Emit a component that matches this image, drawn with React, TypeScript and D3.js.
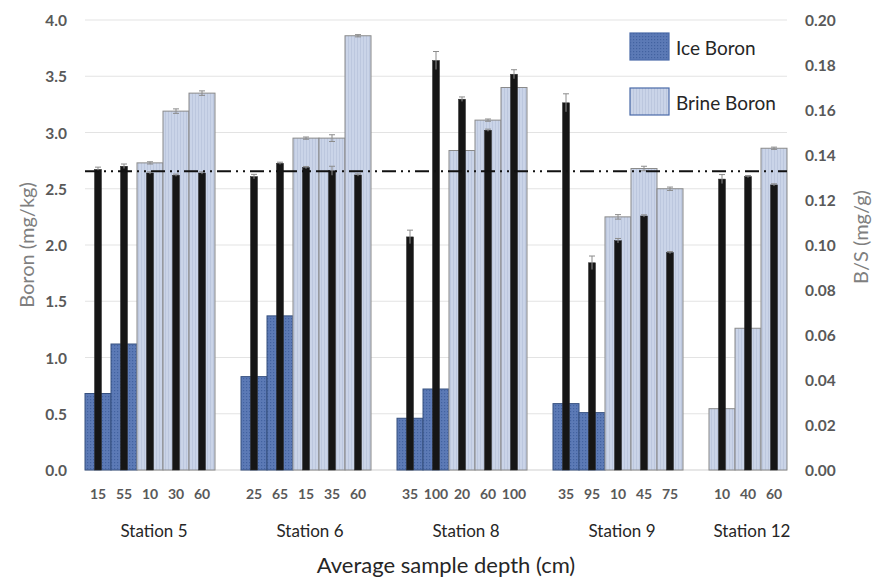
import React from "react";
import * as d3 from "d3";

const stations = ["Station 5", "Station 6", "Station 8", "Station 9", "Station 12"];
const depths = [
  ["15", "55", "10", "30", "60"],
  ["25", "65", "15", "35", "60"],
  ["35", "100", "20", "60", "100"],
  ["35", "95", "10", "45", "75"],
  ["10", "40", "60"],
];
const sampleTypes = [
  ["ice", "ice", "brine", "brine", "brine"],
  ["ice", "ice", "brine", "brine", "brine"],
  ["ice", "ice", "brine", "brine", "brine"],
  ["ice", "ice", "brine", "brine", "brine"],
  ["brine", "brine", "brine"],
];
const boron = [
  [0.68, 1.12, 2.73, 3.19, 3.35],
  [0.83, 1.37, 2.95, 2.95, 3.86],
  [0.46, 0.72, 2.84, 3.11, 3.4],
  [0.59, 0.51, 2.25, 2.68, 2.5],
  [0.545, 1.26, 2.86],
];
const boronErr = [
  [0, 0, 0.01, 0.02, 0.02],
  [0, 0, 0.01, 0.03, 0.01],
  [0, 0, 0.02, 0.01, 0.01],
  [0, 0, 0.02, 0.02, 0.015],
  [0, 0, 0.01],
];
const bsRatio = [
  [0.1336, 0.135, 0.132, 0.131, 0.132],
  [0.1304, 0.1363, 0.1344, 0.133, 0.1311],
  [0.1036, 0.182, 0.1648, 0.151, 0.1759],
  [0.1632, 0.0921, 0.1019, 0.1129, 0.0966],
  [0.1293, 0.1304, 0.1267],
];
const bsErr = [
  [0.001, 0.001, 0.0005, 0.0005, 0.0005],
  [0.001, 0.0005, 0.0005, 0.002, 0.0005],
  [0.003, 0.004, 0.001, 0.0005, 0.002],
  [0.004, 0.003, 0.001, 0.0005, 0.0005],
  [0.002, 0.0005, 0.0005],
];
const referenceBS = 0.1328;
const leftTicks = [0, 0.5, 1, 1.5, 2, 2.5, 3, 3.5, 4];
const rightTicks = [0, 0.02, 0.04, 0.06, 0.08, 0.1, 0.12, 0.14, 0.16, 0.18, 0.2];
const legendItems = ["Ice Boron", "Brine Boron"];

const W = 875;
const H = 579;
const M = { left: 85, right: 88, top: 20, bottom: 109 };
const FONT = "Lato, 'Open Sans', sans-serif";

export default function App() {
  const slots: { key: string; s: number; i: number | null }[] = [];
  stations.forEach((st, s) => {
    depths[s].forEach((d, i) => slots.push({ key: `${s}-${i}`, s, i }));
    if (s < stations.length - 1) slots.push({ key: `gap-${s}`, s, i: null });
  });

  const x = d3
    .scaleBand<string>()
    .domain(slots.map((d) => d.key))
    .range([M.left, W - M.right])
    .padding(0);
  const y = d3.scaleLinear().domain([0, 4]).range([H - M.bottom, M.top]);
  const y2 = d3.scaleLinear().domain([0, 0.2]).range([H - M.bottom, M.top]);
  const bw = x.bandwidth();
  const blackW = 7;

  const samples = slots.filter((d) => d.i !== null) as { key: string; s: number; i: number }[];

  return (
    <svg width={W} height={H} style={{ position: "absolute", left: 0, top: 0, background: "#fff" }}>
      <defs>
        <pattern id="icePat" width="3" height="3" patternUnits="userSpaceOnUse">
          <rect width="3" height="3" fill="#5c7ab6" />
          <rect width="1.2" height="1.2" fill="#4262a0" />
        </pattern>
        <pattern id="brinePat" width="3" height="3" patternUnits="userSpaceOnUse">
          <rect width="3" height="3" fill="#cad4e8" />
          <rect width="1" height="3" fill="#bcc7de" />
        </pattern>
      </defs>

      {leftTicks.map((t) => (
        <line
          key={`g${t}`}
          x1={M.left}
          x2={W - M.right}
          y1={y(t)}
          y2={y(t)}
          stroke={t === 0 ? "#cfcfcf" : "#e3e3e3"}
          strokeWidth={1}
        />
      ))}

      {samples.map((d) => {
        const v = boron[d.s][d.i];
        const ice = sampleTypes[d.s][d.i] === "ice";
        return (
          <rect
            key={`b${d.key}`}
            x={x(d.key)!}
            y={y(v)}
            width={bw}
            height={y(0) - y(v)}
            fill={ice ? "url(#icePat)" : "url(#brinePat)"}
            stroke={ice ? "#36507f" : "#8a8a8a"}
            strokeWidth={1}
          />
        );
      })}
      {samples.map((d) => {
        const v = boron[d.s][d.i];
        const e = boronErr[d.s][d.i];
        if (!e) return null;
        const cx = x(d.key)! + bw / 2;
        return (
          <g key={`be${d.key}`} stroke="#8c8c8c" strokeWidth={1}>
            <line x1={cx} x2={cx} y1={y(v - e)} y2={y(v + e)} />
            <line x1={cx - 3} x2={cx + 3} y1={y(v + e)} y2={y(v + e)} />
            <line x1={cx - 3} x2={cx + 3} y1={y(v - e)} y2={y(v - e)} />
          </g>
        );
      })}

      {samples.map((d) => {
        const v = bsRatio[d.s][d.i];
        const cx = x(d.key)! + bw / 2;
        return (
          <rect
            key={`r${d.key}`}
            x={cx - blackW / 2}
            y={y2(v)}
            width={blackW}
            height={y2(0) - y2(v)}
            fill="#161616"
            stroke="#2a2a2a"
            strokeWidth={0.5}
          />
        );
      })}
      {samples.map((d) => {
        const v = bsRatio[d.s][d.i];
        const e = bsErr[d.s][d.i];
        const cx = x(d.key)! + bw / 2;
        return (
          <g key={`re${d.key}`} stroke="#8c8c8c" strokeWidth={1}>
            <line x1={cx} x2={cx} y1={y2(v - e)} y2={y2(v + e)} />
            <line x1={cx - 3} x2={cx + 3} y1={y2(v + e)} y2={y2(v + e)} />
          </g>
        );
      })}

      <line
        x1={M.left}
        x2={W - M.right}
        y1={y2(referenceBS)}
        y2={y2(referenceBS)}
        stroke="#111"
        strokeWidth={2}
        strokeDasharray="14 5 2 5 2 5"
      />

      {leftTicks.map((t) => (
        <text
          key={`lt${t}`}
          x={67}
          y={y(t)}
          textAnchor="end"
          dominantBaseline="central"
          fontFamily={FONT}
          fontWeight={700}
          fontSize={15.5}
          fill="#595959"
        >
          {d3.format(".1f")(t)}
        </text>
      ))}
      {rightTicks.map((t) => (
        <text
          key={`rt${t}`}
          x={805}
          y={y2(t)}
          textAnchor="start"
          dominantBaseline="central"
          fontFamily={FONT}
          fontWeight={700}
          fontSize={15.5}
          fill="#595959"
        >
          {d3.format(".2f")(t)}
        </text>
      ))}

      <text
        transform={`translate(26,${(y(0) + y(4)) / 2}) rotate(-90)`}
        textAnchor="middle"
        dominantBaseline="central"
        fontFamily={FONT}
        fontSize={20}
        fill="#7f7f7f"
      >
        Boron (mg/kg)
      </text>
      <text
        transform={`translate(860,${(y(0) + y(4)) / 2 - 8}) rotate(-90)`}
        textAnchor="middle"
        dominantBaseline="central"
        fontFamily={FONT}
        fontSize={20}
        fill="#7f7f7f"
      >
        B/S (mg/g)
      </text>

      {samples.map((d) => (
        <text
          key={`d${d.key}`}
          x={x(d.key)! + bw / 2}
          y={493}
          textAnchor="middle"
          dominantBaseline="central"
          fontFamily={FONT}
          fontWeight={700}
          fontSize={14}
          fill="#595959"
        >
          {depths[d.s][d.i]}
        </text>
      ))}

      {stations.map((st, s) => {
        const keys = depths[s].map((_, i) => `${s}-${i}`);
        const x0 = x(keys[0])!;
        const x1 = x(keys[keys.length - 1])! + bw;
        return (
          <text
            key={`s${s}`}
            x={(x0 + x1) / 2 + 4}
            y={530}
            textAnchor="middle"
            dominantBaseline="central"
            fontFamily={FONT}
            fontSize={17}
            fill="#262626"
          >
            {st}
          </text>
        );
      })}

      <text
        x={(M.left + W - M.right) / 2 + 10}
        y={564}
        textAnchor="middle"
        dominantBaseline="central"
        fontFamily={FONT}
        fontSize={22}
        fill="#262626"
      >
        Average sample depth (cm)
      </text>

      {legendItems.map((name, i) => (
        <g key={name} transform={`translate(630,${33 + i * 55})`}>
          <rect
            width={39}
            height={27}
            fill={i === 0 ? "url(#icePat)" : "url(#brinePat)"}
            stroke="#4a6aa8"
            strokeWidth={1.2}
          />
          <text
            x={46}
            y={14}
            dominantBaseline="central"
            fontFamily={FONT}
            fontSize={19}
            fill="#262626"
          >
            {name}
          </text>
        </g>
      ))}
    </svg>
  );
}
